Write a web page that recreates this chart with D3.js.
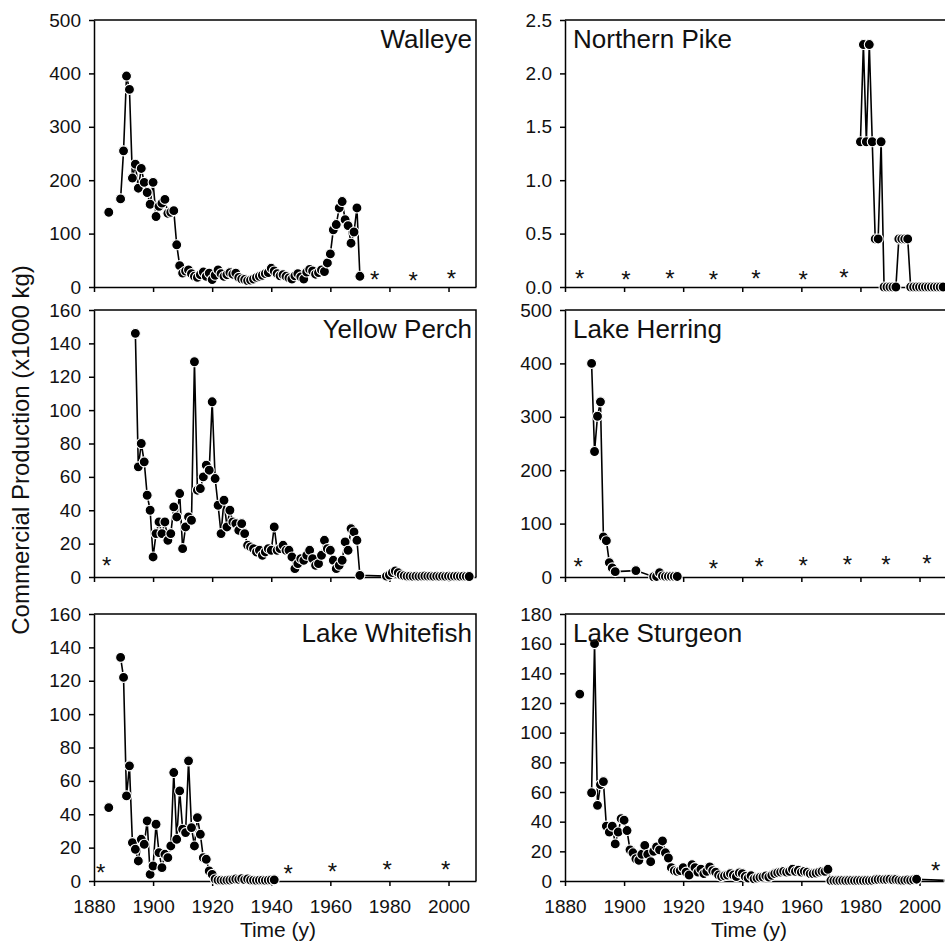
<!DOCTYPE html>
<html>
<head>
<meta charset="utf-8">
<title>Commercial production by species</title>
<script src="https://d3js.org/d3.v7.min.js"></script>
<style>
  body { margin: 0; background: #fff; }
  svg { display: block; font-family: "Liberation Sans", Arial, sans-serif; }
</style>
</head>
<body>
<svg width="945" height="944"></svg>
<script>
// ---- data (x1000 kg), one value per year from the start year, null = no record ----
var xTicks = [1880, 1900, 1920, 1940, 1960, 1980, 2000];

var walleyeTicks = [0, 100, 200, 300, 400, 500];
var walleyeSingles = [[1885, 140]];
var walleyeStart = 1889;
var walleyeValues = [165, 255, 395, 370, 204, 230, 185, 222, 196, 177,
  155, 196, 132, 151, 157, 164, 138, 140, 143, 79,
  40, 26, 30, 32, 25, 20, 18, 23, 28, 20,
  26, 14, 22, 32, 25, 20, 23, 27, 24, 26,
  18, 15, 14, 12, 13, 15, 18, 20, 22, 25,
  27, 35, 30, 25, 21, 23, 20, 17, 15, 21,
  25, 19, 15, 28, 33, 30, 24, 27, 32, 29,
  45, 62, 107, 117, 148, 160, 126, 115, 82, 103,
  148, 20];
var walleyeStars = [[1975, 25], [1988, 23], [2001, 26]];

var pikeTicks = [0, 0.5, 1.0, 1.5, 2.0, 2.5];
var pikeSingles = [];
var pikeStart = 1980;
var pikeValues = [1.36, 2.27, 1.36, 2.27, 1.36, 0.45, 0.45, 1.36, 0, 0,
  0, 0, 0, 0.45, 0.45, 0.45, 0.45, 0, 0, 0,
  0, 0, 0, 0, 0, 0, 0, 0, 0];
var pikeStars = [[1885, 0.13], [1900.6, 0.12], [1915.5, 0.13], [1930.2, 0.12],
  [1944.6, 0.13], [1960.6, 0.12], [1974.4, 0.14]];

var perchTicks = [0, 20, 40, 60, 80, 100, 120, 140, 160];
var perchSingles = [];
var perchStart = 1894;
var perchValues = [146, 66, 80, 69, 49, 40, 12, 26, 33, 26,
  33, 22, 26, 42, 36, 50, 17, 30, 36, 34,
  129, 52, 53, 60, 67, 64, 105, 59, 43, 26,
  46, 30, 40, 33, 32, 28, 32, 26, 19, 18,
  17, 15, 16, 13, 15, 17, 16, 30, 16, 17,
  19, 16, 16, 12, 5, 8, 11, 10, 13, 16,
  11, 7, 8, 13, 22, 17, 16, 10, 5, 7,
  10, 21, 16, 29, 27, 22, 1,
  null, null, null, null, null, null, null, null,
  0.5, 1.2, 2.6, 3.6, 2.6, 1.2, 0.8, 0.5, 0.5, 0.4,
  0.5, 0.4, 0.5, 0.6, 0.5, 0.5, 0.4, 0.5, 0.4, 0.5,
  0.4, 0.5, 0.4, 0.5, 0.5, 0.4, 0.5, 0.4, 0.3];
var perchStars = [[1884.3, 10]];

var herringTicks = [0, 100, 200, 300, 400, 500];
var herringSingles = [];
var herringStart = 1889;
var herringValues = [400, 235, 301, 328, 75, 68, 27, 17, 10,
  null, null, null, null, null, null, 12, null, null, null, null, null,
  0.5, 1, 8, 2, 1, 1, 1, 1, 1];
var herringStars = [[1884.5, 30], [1930.2, 27], [1945.7, 30], [1960.6, 31],
  [1975.6, 33], [1988.6, 33], [2002.5, 35]];

var whitefishTicks = [0, 20, 40, 60, 80, 100, 120, 140, 160];
var whitefishSingles = [[1885, 44]];
var whitefishStart = 1889;
var whitefishValues = [134, 122, 51, 69, 23, 19, 12, 25, 22, 36,
  4, 9, 34, 17, 8, 16, 14, 21, 65, 25,
  54, 31, 29, 72, 32, 21, 38, 28, 14, 13,
  6, 4, 1.2, 0.5, 0.5, 0.4, 0.5, 0.6, 0.8, 1.2,
  1.0, 1.4, 0.8, 1.2, 0.6, 0.5, 0.4, 0.5, 0.5, 0.4,
  0.5, 0.6, 0.7];
var whitefishStars = [[1882.3, 8.6], [1945.7, 8], [1960.7, 9], [1979.2, 10], [1999, 10]];

var sturgeonTicks = [0, 20, 40, 60, 80, 100, 120, 140, 160, 180];
var sturgeonSingles = [[1885, 126]];
var sturgeonStart = 1889;
var sturgeonValues = [59.5, 160, 51, 65, 67, 37, 33, 37, 25, 33,
  42, 41, 34, 21, 19, 15, 14, 18, 24, 18,
  13, 20, 23, 21, 27, 19, 15.5, 9, 7, 6.5,
  7, 9, 6, 4, 11, 9, 6, 8, 5, 6.5,
  9.5, 7, 6, 4, 3, 3.5, 4, 5, 4, 3,
  5.5, 5, 3, 2, 3.5, 1.5, 2, 2.5, 2.7, 3.4,
  2.7, 3.8, 5, 5.6, 6, 6.5, 6, 6.5, 7.9, 6.5,
  7.2, 6, 6.5, 6, 5, 5, 5.4, 6, 6.5, 6.5,
  7.9,
  0.3, 0.3, 0.2, 0.3, 0.3, 0.2, 0.3, 0.3, 0.2, 0.3,
  0.3, 0.2, 0.3, 0.3, 0.4, 0.8, 1.0, 1.1, 0.9, 1.0,
  1.2, 0.8, 1.0, 0.6, 0.4, 0.5, 0.7, 0.5, 0.8, 1.2,
  null, null, null, null, null, null, null, null, null, null,
  0.3];
var sturgeonStars = [[2005.5, 10.5]];

var panels = [
  {name: "Walleye", col: 0, row: 0, ticks: walleyeTicks, fmt: "d", start: walleyeStart, values: walleyeValues, singles: walleyeSingles, stars: walleyeStars},
  {name: "Yellow Perch", col: 0, row: 1, ticks: perchTicks, fmt: "d", start: perchStart, values: perchValues, singles: perchSingles, stars: perchStars},
  {name: "Lake Whitefish", col: 0, row: 2, ticks: whitefishTicks, fmt: "d", start: whitefishStart, values: whitefishValues, singles: whitefishSingles, stars: whitefishStars},
  {name: "Northern Pike", col: 1, row: 0, ticks: pikeTicks, fmt: ".1f", start: pikeStart, values: pikeValues, singles: pikeSingles, stars: pikeStars},
  {name: "Lake Herring", col: 1, row: 1, ticks: herringTicks, fmt: "d", start: herringStart, values: herringValues, singles: herringSingles, stars: herringStars},
  {name: "Lake Sturgeon", col: 1, row: 2, ticks: sturgeonTicks, fmt: "d", start: sturgeonStart, values: sturgeonValues, singles: sturgeonSingles, stars: sturgeonStars}
];

// ---- layout ----
var svg = d3.select("svg"),
    colX = [94, 565],
    rowY = [20, 310, 614],
    width = 382,
    height = 267;

panels.forEach(function(p) {
  var x0 = colX[p.col], y0 = rowY[p.row];
  var g = svg.append("g").attr("transform", `translate(${x0},${y0})`);

  var x = d3.scaleLinear().domain([1880, 2009.3]).range([0, width]);
  var y = d3.scaleLinear().domain([0, d3.max(p.ticks)]).range([height, 0]);

  var pts = p.values.map(function(v, i) { return {year: p.start + i, v: v}; })
                    .filter(function(d) { return d.v != null; });
  var singles = p.singles.map(function(s) { return {year: s[0], v: s[1]}; });

  // box: top and right edges
  g.append("path")
    .attr("d", `M0,0H${width}V${height}`)
    .attr("fill", "none")
    .attr("stroke", "#000")
    .attr("stroke-width", 1.5);

  var xAxis = g.append("g")
    .attr("transform", `translate(0,${height})`)
    .call(d3.axisBottom(x).tickValues(xTicks).tickSize(5).tickSizeOuter(0).tickPadding(14)
      .tickFormat(p.row === 2 ? d3.format("d") : ""));

  var yAxis = g.append("g")
    .call(d3.axisLeft(y).tickValues(p.ticks).tickSize(5).tickSizeOuter(0).tickPadding(8)
      .tickFormat(d3.format(p.fmt)));

  [xAxis, yAxis].forEach(function(a) {
    a.attr("font-size", 19).attr("font-family", null);
    a.selectAll("path, line").attr("stroke", "#000").attr("stroke-width", 1.5);
    a.selectAll("text").attr("fill", "#111");
  });

  // connecting line
  g.append("path")
    .datum(pts)
    .attr("fill", "none")
    .attr("stroke", "#000")
    .attr("stroke-width", 1.6)
    .attr("d", d3.line().x(d => x(d.year)).y(d => y(d.v)));

  // markers (isolated years first, then the series in year order)
  g.selectAll("circle.pt")
    .data(singles.concat(pts))
    .enter()
    .append("circle")
      .attr("class", "pt")
      .attr("cx", d => x(d.year))
      .attr("cy", d => y(d.v))
      .attr("r", 5)
      .attr("fill", "#000")
      .attr("stroke", "#fff")
      .attr("stroke-width", 1.1);

  // years without records
  g.selectAll("text.star")
    .data(p.stars)
    .enter()
    .append("text")
      .attr("class", "star")
      .attr("x", d => x(d[0]))
      .attr("y", d => y(d[1]))
      .attr("dy", "0.58em")
      .attr("text-anchor", "middle")
      .attr("font-size", 24)
      .attr("fill", "#111")
      .text("*");

  g.append("text")
    .attr("x", p.col === 0 ? width - 4 : 8)
    .attr("y", 28)
    .attr("text-anchor", p.col === 0 ? "end" : "start")
    .attr("font-size", 26)
    .attr("fill", "#111")
    .text(p.name);

  if (p.row === 2) {
    g.append("text")
      .attr("x", width / 2 - 7)
      .attr("y", height + 56)
      .attr("text-anchor", "middle")
      .attr("font-size", 21)
      .attr("fill", "#111")
      .text("Time (y)");
  }
});

svg.append("text")
  .attr("transform", "translate(29,450) rotate(-90)")
  .attr("text-anchor", "middle")
  .attr("font-size", 24)
  .attr("fill", "#111")
  .text("Commercial Production (x1000 kg)");
</script>
</body>
</html>
